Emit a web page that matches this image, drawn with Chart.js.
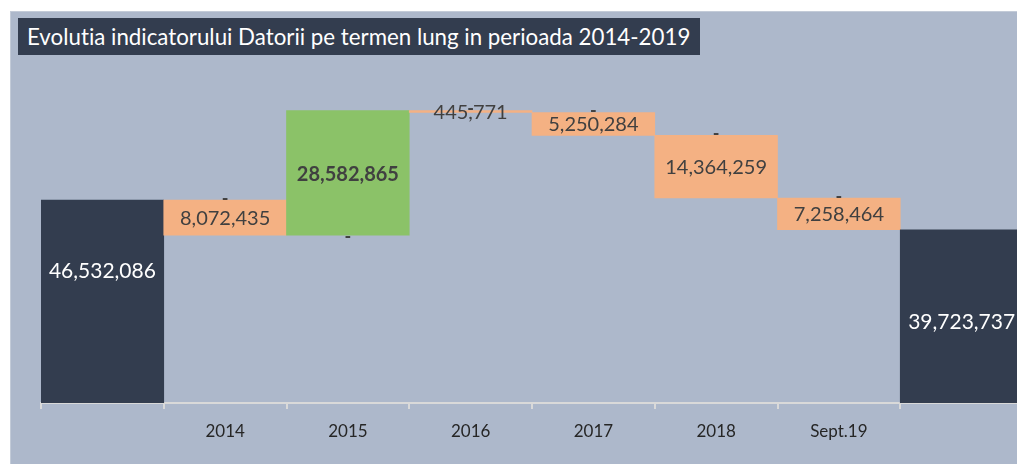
<!DOCTYPE html>
<html>
<head>
<meta charset="utf-8">
<script src="https://cdn.jsdelivr.net/npm/chart.js@4/dist/chart.umd.min.js"></script>
<style>
  html, body { margin: 0; padding: 0; background: #ffffff; overflow: hidden; }
  #panel { position: absolute; left: 10px; top: 11px; width: 1020px; height: 460px; background: #adb8cb; border-left: 1px solid #c3cbd8; border-top: 1px solid #c3cbd8; }
  #title { position: absolute; left: 18px; top: 18px; height: 37px; line-height: 37px; padding: 0 10px 0 9px; background: #333d4f; color: #ffffff; font-family: Lato, sans-serif; font-size: 22.3px; white-space: nowrap; z-index: 2; font-variant-ligatures: none; }
  #chart { position: absolute; left: 0; top: 0; }
</style>
</head>
<body>
<div id="panel"></div>
<div id="title">Evolutia indicatorului Datorii pe termen lung in perioada 2014-2019</div>
<canvas id="chart" width="1030" height="464"></canvas>
<script>
// waterfall data
const categories = ['', '2014', '2015', '2016', '2017', '2018', 'Sept.19', ''];
const changes = [46532086, -8072435, 28582865, -445771, -5250284, -14364259, -7258464, 39723737];
const kinds = ['total', 'down', 'up', 'down', 'down', 'down', 'down', 'total'];

const colors = { total: '#333d4f', down: '#f4b183', up: '#8bc268' };

// build floating ranges from the running sum
let running = 0;
const ranges = changes.map((v, i) => {
    if (kinds[i] === 'total') {
        running = v;
        return [0, v];
    }
    const start = running;
    running = running + v;
    return [start, running];
});

function fmt(n) {
    return Math.abs(n).toLocaleString('en-US');
}

// draws the value labels like the excel version
const labelPlugin = {
    id: 'wfLabels',
    afterDatasetsDraw(chart) {
        const ctx = chart.ctx;
        const meta = chart.getDatasetMeta(0);
        ctx.save();
        ctx.textAlign = 'center';
        ctx.textBaseline = 'middle';
        meta.data.forEach((bar, i) => {
            const top = Math.min(bar.y, bar.base);
            const bottom = Math.max(bar.y, bar.base);
            const mid = (top + bottom) / 2;
            const kind = kinds[i];
            if (kind === 'total') {
                ctx.fillStyle = '#ffffff';
                ctx.font = '21px Lato, sans-serif';
                ctx.fillText(fmt(changes[i]), bar.x, mid + (i === 0 ? -30 : 6));
            } else if (kind === 'up') {
                ctx.fillStyle = '#404040';
                ctx.font = 'bold 20px Lato, sans-serif';
                ctx.fillText(fmt(changes[i]), bar.x, mid + 2);
                ctx.font = 'bold 18px Lato, sans-serif';
                ctx.fillText('-', bar.x, bottom + 2);
            } else {
                ctx.fillStyle = '#404040';
                ctx.font = '20px Lato, sans-serif';
                ctx.fillText(fmt(changes[i]), bar.x, mid + 1);
                ctx.font = 'bold 18px Lato, sans-serif';
                ctx.fillText('-', bar.x, top - 1);
            }
        });
        ctx.restore();
    }
};

new Chart(document.getElementById('chart').getContext('2d'), {
    type: 'bar',
    data: {
        labels: categories,
        datasets: [{
            data: ranges,
            backgroundColor: kinds.map(k => colors[k]),
            borderWidth: 0,
            barPercentage: 1,
            categoryPercentage: 1
        }]
    },
    options: {
        responsive: false,
        animation: false,
        layout: { padding: { left: 41, right: 7, top: 54, bottom: 0 } },
        plugins: {
            legend: { display: false },
            tooltip: { enabled: false }
        },
        scales: {
            x: {
                grid: { offset: true, drawOnChartArea: false, drawTicks: true, tickLength: 6, color: '#d9d9d9', lineWidth: 2 },
                border: { color: '#d9d9d9', width: 2 },
                ticks: { color: '#262626', font: { family: 'Lato', size: 17 }, padding: 12, maxRotation: 0 },
                afterFit: function(scale) { scale.height = 61; }
            },
            y: {
                display: false,
                min: 0,
                max: 80000000
            }
        }
    },
    plugins: [labelPlugin]
});
</script>
</body>
</html>
